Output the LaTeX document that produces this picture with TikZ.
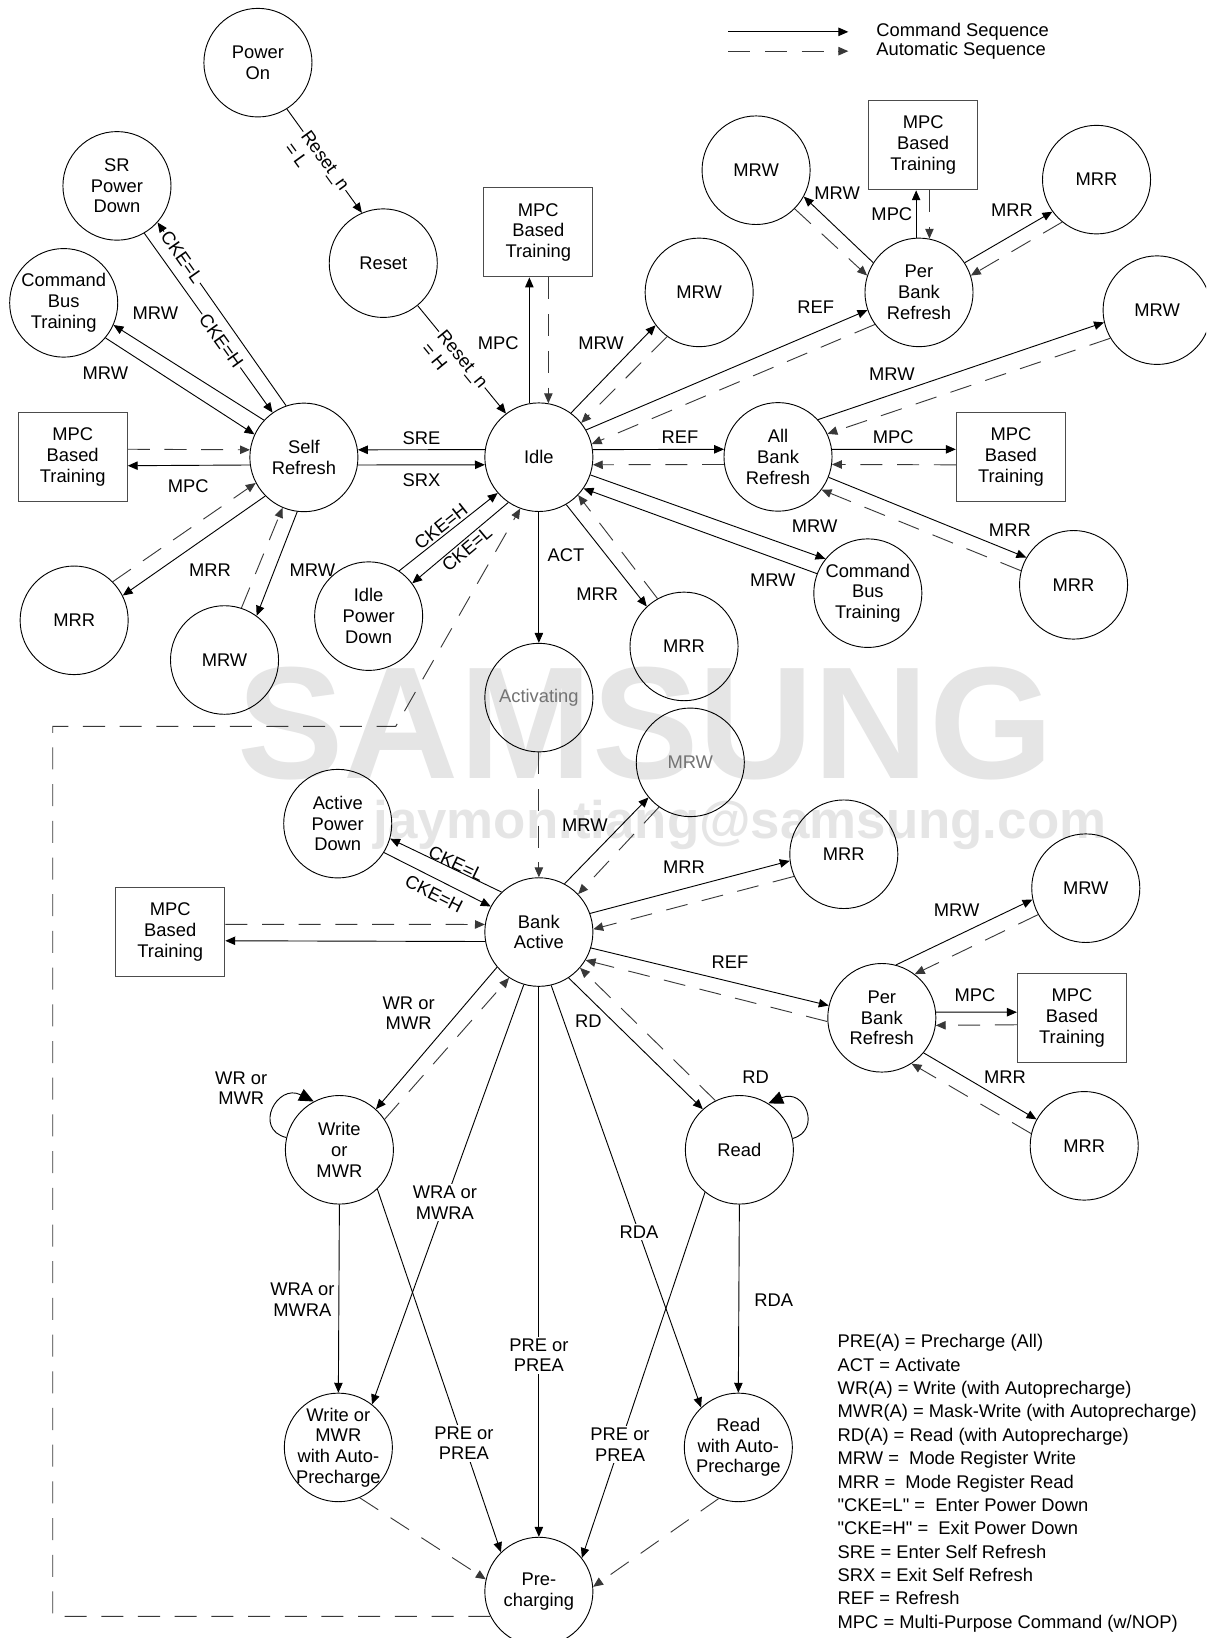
\documentclass[tikz,border=0pt]{standalone}
\usepackage{fontspec}
\setmainfont{Liberation Sans}
\newfontfamily\semmapa{Liberation Sans}
\usetikzlibrary{arrows.meta,shapes.geometric}

\definecolor{marca}{rgb}{0.9,0.9,0.9}
\definecolor{tracejado}{rgb}{0.22,0.22,0.22}
\newcommand{\linhas}[2]{\begin{tabular}[t]{@{}l@{}}#1\\#2\end{tabular}}

\begin{document}
\begin{tikzpicture}[x=0.02cm, y=-0.02cm,
    estado/.style={draw, line width=0.5pt, ellipse, minimum width=2.07cm, minimum height=2.08cm, inner xsep=-3pt, inner ysep=-1pt, align=center, font=\fontsize{10}{11.3}\selectfont},
    caixa/.style={draw=black!70, line width=0.6pt, minimum width=2.09cm, minimum height=1.71cm, inner sep=0pt, align=center, font=\fontsize{10}{11.3}\selectfont},
    seqcmd/.style={-{Triangle[length=5.4pt,width=4.6pt]}, line width=0.5pt},
    seqauto/.style={seqcmd, draw=tracejado, dash pattern=on 12pt off 8pt},
    laco/.style={-{Triangle[length=8pt,width=7pt]}, line width=0.5pt},
    lbl/.style={inner sep=0pt, align=center, font=\fontsize{10}{11.3}\selectfont},
    sobre/.style={lbl, fill=white, inner sep=1pt}]

            \useasboundingbox (0,0) rectangle (1155,1568.5);
            \fill[white] (0,0) rectangle (1155,1568.5);
            \clip (0,0) rectangle (1155,1568.5);

            \node[anchor=base, text=marca, inner sep=0pt, font=\fontsize{87}{87}\selectfont\bfseries] (wm1) at (618,745) {SAMSUNG};
            \node[anchor=base, text=marca, inner sep=0pt, font=\fontsize{28.8}{28.8}\selectfont\bfseries] (wm2) at (708.5,803) {jaymon.tiang@samsung.com};

            \coordinate (lcA1) at (697.4,30.5);
            \coordinate (lcA2) at (812.3,30.5);
            \coordinate (lcB1) at (697.4,49);
            \coordinate (lcB2) at (812.3,49);
            \draw[seqcmd] (lcA1) -- (lcA2);
            \draw[seqauto] (lcB1) -- (lcB2);
            \node[lbl, anchor=west] (tCmd) at (838.9,30.5) {Command Sequence};
            \node[lbl, anchor=west] (tAuto) at (838.9,49) {Automatic Sequence};

            \node[estado] (PowerOn) at (247,60) {Power\\On};
            \node[estado] (Reset) at (367,252) {Reset};
            \node[estado] (SRPD) at (112,178) {SR\\Power\\Down};
            \node[estado] (CBTl) at (61,290) {Command\\Bus\\Training};
            \node[caixa] (MPCl) at (69.6,437.6) {MPC\\Based\\Training};
            \node[estado] (SR) at (291,438) {Self\\Refresh};
            \node[estado] (MRRl) at (71,594) {MRR};
            \node[estado] (MRWl) at (215,632) {MRW};
            \node[estado] (IPD) at (353,590) {Idle\\Power\\Down};
            \node[estado] (Idle) at (516,437.8) {Idle};
            \node[caixa] (MPCt) at (515.5,222.4) {MPC\\Based\\Training};
            \node[estado] (MRW1) at (669.5,280) {MRW};
            \node[estado] (MRR1) at (655,619) {MRR};
            \node[estado, text=black!55] (Act) at (516,668) {Activating};
            \node[estado] (PB1) at (880,280) {Per\\Bank\\Refresh};
            \node[estado] (MRWtl) at (724,163) {MRW};
            \node[caixa] (MPCpb) at (884,139) {MPC\\Based\\Training};
            \node[estado] (MRRtr) at (1050,172) {MRR};
            \node[estado] (MRWfr) at (1108,297) {MRW};
            \node[estado] (AB) at (745,437.5) {All\\Bank\\Refresh};
            \node[caixa] (MPCab) at (968,437.7) {MPC\\Based\\Training};
            \node[estado] (CBTr) at (831,568) {Command\\Bus\\Training};
            \node[estado] (MRRr) at (1028,560) {MRR};
            \node[estado] (APD) at (323.4,788.7) {Active\\Power\\Down};
            \node[caixa] (MPCba) at (163,892.5) {MPC\\Based\\Training};
            \node[estado] (BA) at (516,892.5) {Bank\\Active};
            \node[estado, text=black!55] (MRW2) at (661,730) {MRW};
            \node[estado] (MRR2) at (808,818) {MRR};
            \node[estado] (PB2) at (844.4,974.6) {Per\\Bank\\Refresh};
            \node[estado] (MRW3) at (1039.7,850.5) {MRW};
            \node[caixa] (MPCpb2) at (1026.5,974.8) {MPC\\Based\\Training};
            \node[estado] (MRR3) at (1038.2,1097.2) {MRR};
            \node[estado] (Wr) at (325,1101) {Write\\or\\MWR};
            \node[estado] (Rd) at (708,1101) {Read};
            \node[estado] (WrAP) at (324,1386) {Write or\\MWR\\with Auto-\\Precharge};
            \node[estado] (RdAP) at (707,1386) {Read\\with Auto-\\Precharge};
            \node[estado] (Pre) at (516,1524) {Pre-\\charging};

            \coordinate (cA) at (50.5,695.5);
            \coordinate (cB) at (379,695.5);

            \draw[seqcmd] (PowerOn.-58) -- node[sobre, sloped, anchor=mid] (tRL) {\linhas{Reset\_n}{= L}} (Reset.113);
            \draw[seqcmd] (Reset.-51) -- node[sobre, sloped, anchor=mid] (tRH) {\linhas{Reset\_n}{= H}} (Idle.127);
            \draw[seqcmd] (SR.109) -- node[sobre, sloped, pos=.81] (tCKEL1) {CKE=L} (SRPD.-42);
            \draw[seqcmd] (SRPD.-60) -- node[sobre, sloped, pos=.6] (tCKEH1) {CKE=H} (SR.125);
            \draw[seqcmd] (SR.137) -- (CBTl.-24);
            \draw[seqcmd] (CBTl.-40) -- (SR.155);
            \draw[seqauto] (MPCl.8) -- (SR.172);
            \draw[seqcmd] (SR.188) -- (MPCl.-9);
            \draw[seqcmd] (Idle.172) -- (SR.8);
            \draw[seqcmd] (SR.-8) -- (Idle.188);
            \draw[seqauto] (MRRl.45) -- (SR.208);
            \draw[seqcmd] (SR.225) -- (MRRl.27);
            \draw[seqauto] (MRWl.72) -- (SR.247);
            \draw[seqcmd] (SR.263) -- (MRWl.54);
            \draw[seqcmd] (IPD.56) -- node[lbl, sloped, above, inner sep=1pt, pos=.48] (tCKEH2) {CKE=H} (Idle.221);
            \draw[seqcmd] (Idle.236) -- node[lbl, sloped, below, inner sep=1pt, pos=.49] (tCKEL2) {CKE=L} (IPD.37);
            \draw[seqcmd] (Idle.south) -- (Act.north);
            \draw[seqauto] (Pre.207) -| (cA) -- (cB) -- (Idle.250);
            \draw[seqcmd] (Idle.100) -- (Idle.100 |- MPCt.south);
            \draw[seqauto] (Idle.80 |- MPCt.south) -- (Idle.80);
            \draw[seqcmd] (Idle.54) -- (MRW1.217);
            \draw[seqauto] (MRW1.234) -- (Idle.39);
            \draw[seqcmd] (Idle.30) -- (PB1.199);
            \draw[seqauto] (PB1.216) -- (Idle.14);
            \draw[seqcmd] (Idle.8) -- (AB.172);
            \draw[seqauto] (AB.188) -- (Idle.-8);
            \draw[seqcmd] (Idle.-19) -- (CBTr.141);
            \draw[seqcmd] (CBTr.159) -- (Idle.-35);
            \draw[seqcmd] (Idle.-60) -- (MRR1.133);
            \draw[seqauto] (MRR1.119) -- (Idle.-44);
            \draw[seqauto] (Act.south) -- (BA.north);
            \draw[seqcmd] (AB.43) -- (MRWfr.193);
            \draw[seqauto] (MRWfr.211) -- (AB.25);
            \draw[seqcmd] (AB.8) -- (MPCab.172);
            \draw[seqauto] (MPCab.188) -- (AB.-8);
            \draw[seqcmd] (AB.-22) -- (MRRr.150);
            \draw[seqauto] (MRRr.165) -- (AB.-37);
            \draw[seqcmd] (PB1.147) -- (MRWtl.331);
            \draw[seqauto] (MRWtl.315) -- (PB1.162);
            \draw[seqcmd] (PB1.93) -- (PB1.93 |- MPCpb.south);
            \draw[seqauto] (PB1.79 |- MPCpb.south) -- (PB1.79);
            \draw[seqcmd] (PB1.33) -- (MRRtr.216);
            \draw[seqauto] (MRRtr.231) -- (PB1.18);

            \draw[seqcmd] (BA.133) -- node[lbl, sloped, above=-1.5pt, inner sep=1pt, pos=.43] (tCKEL3) {CKE=L} (APD.-16);
            \draw[seqcmd] (APD.-32) -- node[lbl, sloped, below=3pt, inner sep=1pt, pos=.53] (tCKEH3) {CKE=H} (BA.152);
            \draw[seqauto] (MPCba.8) -- (BA.172);
            \draw[seqcmd] (BA.190) -- (MPCba.-9);
            \draw[seqcmd] (BA.62) -- (MRW2.220);
            \draw[seqauto] (MRW2.235) -- (BA.44);
            \draw[seqcmd] (BA.20) -- (MRR2.187);
            \draw[seqauto] (MRR2.204) -- (BA.3);
            \draw[seqcmd] (BA.-17) -- (PB2.167);
            \draw[seqauto] (PB2.184) -- (BA.-31);
            \draw[seqcmd] (PB2.75) -- (MRW3.192);
            \draw[seqauto] (MRW3.209) -- (PB2.53);
            \draw[seqcmd] (PB2.6) -- (MPCpb2.174);
            \draw[seqauto] (MPCpb2.187) -- (PB2.352);
            \draw[seqcmd] (PB2.-40) -- (MRR3.151);
            \draw[seqauto] (MRR3.167) -- (PB2.-57);
            \draw[seqcmd] (BA.220) -- (Wr.48);
            \draw[seqauto] (Wr.34) -- (BA.237);
            \draw[seqcmd] (BA.254) -- node[sobre, pos=.52] (tWRA1) {WRA or\\MWRA} (WrAP.52);
            \draw[seqcmd] (BA.south) -- node[sobre, pos=.67] (tPRE1) {PRE or\\PREA} (Pre.north);
            \draw[seqcmd] (BA.-77) -- node[sobre, pos=.585] (tRDA1) {RDA} (RdAP.133);
            \draw[seqcmd] (BA.-57) -- (Rd.132);
            \draw[seqauto] (Rd.116) -- (BA.-41);
            \draw[laco] (Wr.167) .. controls +(-32,-8) and +(-35,-18) .. (Wr.118);
            \draw[laco] (Rd.12) .. controls +(28,-8) and +(35,-15) .. (Rd.58);
            \draw[seqcmd] (Wr.south) -- (WrAP.north);
            \draw[seqcmd] (Wr.-46) -- node[sobre, pos=.7] (tPRE2) {PRE or\\PREA} (Pre.134);
            \draw[seqcmd] (Rd.south) -- (RdAP.north);
            \draw[seqcmd] (Rd.231) -- node[sobre, pos=.69] (tPRE3) {PRE or\\PREA} (Pre.38);
            \draw[seqauto] (WrAP.-67) -- (Pre.167);
            \draw[seqauto] (RdAP.249) -- (Pre.5);

            \node[lbl] (tMRWa) at (148.8,300.1) {MRW};
            \node[lbl] (tMRWb) at (100.9,357.5) {MRW};
            \node[lbl] (tMPCa) at (180.2,466) {MPC};
            \node[lbl] (tSRE) at (403.6,419.7) {SRE};
            \node[lbl] (tSRX) at (403.6,459.6) {SRX};
            \node[lbl] (tMRRa) at (201,546.2) {MRR};
            \node[lbl] (tMRWc) at (299.2,546.2) {MRW};
            \node[lbl] (tMPCb) at (477.1,328.8) {MPC};
            \node[lbl] (tMRWd) at (575.5,328.8) {MRW};
            \node[lbl] (tREFa) at (781,294) {REF};
            \node[lbl] (tREFb) at (651.2,418.8) {REF};
            \node[lbl] (tMPCc) at (855.4,418.8) {MPC};
            \node[lbl] (tMRWe) at (854,358) {MRW};
            \node[lbl] (tMRWf) at (780,504) {MRW};
            \node[lbl] (tMRWg) at (740,556) {MRW};
            \node[lbl] (tMRRb) at (967,508) {MRR};
            \node[lbl] (tACT) at (542,531.5) {ACT};
            \node[lbl] (tMRRc) at (572,569) {MRR};
            \node[lbl] (tMRWh) at (801.6,185) {MRW};
            \node[lbl] (tMPCd) at (854,205) {MPC};
            \node[lbl] (tMRRd) at (969,201) {MRR};
            \node[lbl] (tMRWi) at (560,790) {MRW};
            \node[lbl] (tMRRe) at (655,830) {MRR};
            \node[lbl] (tREFc) at (699,921) {REF};
            \node[lbl] (tMRWj) at (916.1,871.9) {MRW};
            \node[lbl] (tMPCe) at (933.7,952.7) {MPC};
            \node[lbl] (tMRRf) at (962.4,1031) {MRR};
            \node[lbl] (tWR1) at (391.3,970.3) {WR or\\MWR};
            \node[lbl] (tWR2) at (231,1042) {WR or\\MWR};
            \node[lbl] (tRD1) at (563.3,978.3) {RD};
            \node[lbl] (tRD2) at (723.5,1031) {RD};
            \node[lbl] (tWRA2) at (289.6,1244.8) {WRA or\\MWRA};
            \node[lbl] (tRDA2) at (741,1244.8) {RDA};

            \node[anchor=north west, align=left, inner sep=0pt, font=\semmapa\fontsize{10}{12.74}\selectfont] (legenda) at (801.8,1277.5) {PRE(A) = Precharge (All)\\ACT = Activate\\WR(A) = Write (with Autoprecharge)\\MWR(A) = Mask-Write (with Autoprecharge)\\RD(A) = Read (with Autoprecharge)\\MRW = \ Mode Register Write\\MRR = \ Mode Register Read\\"CKE=L" = \ Enter Power Down\\"CKE=H" = \ Exit Power Down\\SRE = Enter Self Refresh\\SRX = Exit Self Refresh\\REF = Refresh\\MPC = Multi-Purpose Command (w/NOP)};
        \end{tikzpicture}
\end{document}
